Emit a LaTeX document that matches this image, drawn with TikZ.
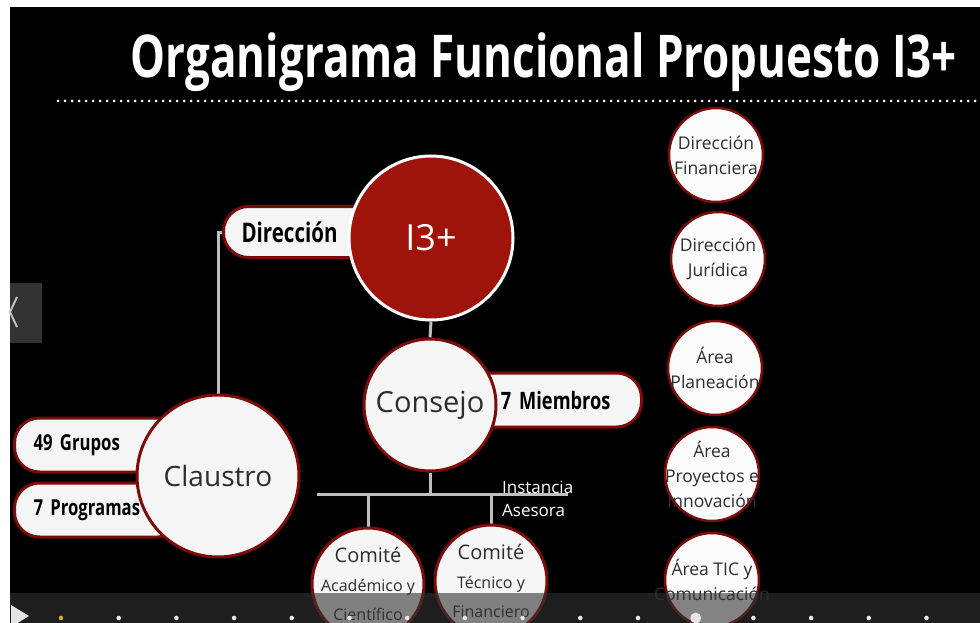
\documentclass[tikz,border=0pt]{standalone}
\usepackage{fontspec}
\setmainfont{Open Sans}
\newfontfamily\condfont[FakeStretch=0.76]{Open Sans}
\newfontfamily\titlefont[FakeStretch=0.745]{Open Sans}
\usetikzlibrary{shapes,backgrounds}
\usetikzlibrary{arrows}
\definecolor{i3red}{RGB}{158,20,10}
\definecolor{rimred}{RGB}{122,12,10}
\definecolor{linkgray}{RGB}{190,190,190}
\definecolor{txtgray}{RGB}{45,45,45}
\pgfdeclarelayer{back}\pgfdeclarelayer{lines}\pgfdeclarelayer{pills}\pgfdeclarelayer{front}
\pgfsetlayers{back,lines,pills,main,front}

\begin{document}
\begin{tikzpicture}[x=1pt, y=-1pt,
  circ/.style={circle, draw=rimred, line width=3pt, fill=white!92!gray, text=txtgray, inner sep=0pt, align=center},
  side/.style={circ, line width=2.5pt, fill=white!97!gray, minimum size=94pt},
  sidetext/.style={align=center, text=txtgray, font=\fontsize{17.5}{25}\selectfont},
  comtext/.style={align=center, text=txtgray, font=\fontsize{20}{29}\selectfont},
  pill/.style={rectangle, rounded corners=25pt, draw=rimred, line width=3pt, fill=white!92!gray, text=black, inner xsep=19pt, align=left, font=\condfont\bfseries\fontsize{22}{22}\selectfont},
  link/.style={draw=linkgray, line width=3pt}]

\useasboundingbox (0,0) rectangle (980,623);
\clip (0,0) rectangle (980,623);
\begin{pgfonlayer}{back}
\fill[white] (0,0) rectangle (980,623);
\fill[black] (10,7) rectangle (980,623);
\end{pgfonlayer}

% title
\node[anchor=base, text=white, inner sep=0pt, font=\titlefont\bfseries\fontsize{59}{59}\selectfont] (title) at (544,78) {Organigrama Funcional Propuesto I3+};
\draw[white, line width=3pt, line cap=round, dash pattern=on 0pt off 7pt] (58,101) -- (990,101);

% main circles
\node[circ, fill=i3red, draw=white, text=white, minimum size=164pt, font=\fontsize{36}{36}\selectfont] (i3) at (431,238) {I3+};
\node[circ, minimum size=132pt, font=\fontsize{29}{29}\selectfont] (cons) at (430,405) {Consejo};
\node[circ, minimum size=162pt, font=\fontsize{28}{28}\selectfont] (claus) at (218,476) {Claustro};
\node[circ, minimum size=112pt, label={[comtext, name=comAt]center:Comité\\{\fontsize{16}{28}\selectfont Académico y}\\{\fontsize{16}{28}\selectfont Científico}}] (comA) at (368,584) {};
\node[circ, minimum size=112pt, label={[comtext, name=comBt]center:Comité\\{\fontsize{16}{28}\selectfont Técnico y}\\{\fontsize{16}{28}\selectfont Financiero}}] (comB) at (491,581) {};

% pills behind circles
\begin{pgfonlayer}{pills}
\node[pill, anchor=west, text width=142pt, inner xsep=18pt, minimum height=51pt, font=\condfont\bfseries\fontsize{27}{27}\selectfont] (dir) at (222,232) {Dirección};
\node[pill, anchor=east, text width=141pt, inner xsep=31pt, align=right, minimum height=54pt, font=\condfont\bfseries\fontsize{24}{24}\selectfont] (memb) at (643,400) {7 Miembros};
\node[pill, anchor=west, text width=130pt, minimum height=54pt] (grup) at (13,445) {49 Grupos};
\node[pill, anchor=west, text width=130pt, minimum height=54pt] (prog) at (13,510) {7 Programas};
\end{pgfonlayer}

% right column
\node[side, label={[sidetext, name=fint]center:Dirección\\Financiera}] (fin) at (716,155) {};
\node[side, label={[sidetext, name=jurt]center:Dirección\\Jurídica}] (jur) at (718,259) {};
\node[side, label={[sidetext, name=plat]center:Área\\Planeación}] (pla) at (715,368) {};
\node[side, label={[sidetext, name=proyt]center:Área\\Proyectos e\\Innovación}] (proy) at (712,474) {};
\node[side, label={[sidetext, name=tict]center:Área TIC y\\Comunicación}] (tic) at (712,580) {};

\node[anchor=west, text=white, align=left, inner sep=0pt, font=\fontsize{17}{23}\selectfont] (inst) at (502,499) {Instancia\\Asesora};

% connectors
\begin{pgfonlayer}{lines}
\coordinate (busL) at (317,494);
\coordinate (busR) at (568,494);
\draw[link] (dir.west) -| (claus.north);
\draw[link] (i3.south) -- (cons.north);
\draw[link] (cons.south) -- (cons.south |- busL);
\draw[link] (busL) -- (busR);
\draw[link] (busL -| comA.north) -- (comA.north);
\draw[link] (busL -| comB.north) -- (comB.north);
\end{pgfonlayer}

% player overlay
\fill[black!80!white] (10,283) rectangle (42,343);
\draw[white!75!black, line width=2pt] (17,297) -- (10,312) -- (17,327);
\begin{pgfonlayer}{front}
\fill[black!80!white, opacity=0.6] (10,593) rectangle (980,623);
\fill[white!90!black] (11,605) -- (29,616) -- (11,627) -- cycle;
\foreach \k in {1,...,15}
  \fill[white!90!black] (61+57.7*\k,618) circle (2.3pt);
\fill[yellow!60!orange!80!black] (61,618) circle (2.3pt);
\fill[white!90!black] (695.7,618) circle (5.5pt);
\end{pgfonlayer}
\end{tikzpicture}
\end{document}
